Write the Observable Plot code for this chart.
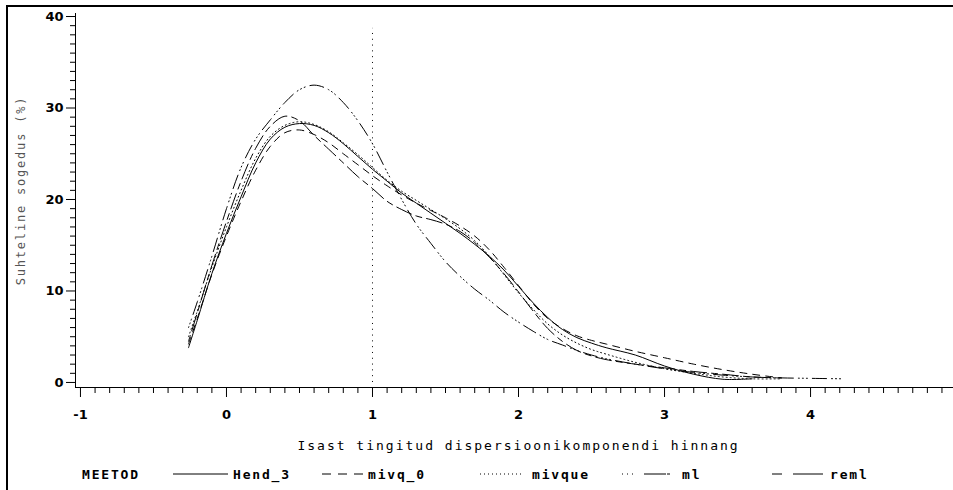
<!DOCTYPE html>
<html>
<head>
<meta charset="utf-8">
<script src="https://cdn.jsdelivr.net/npm/d3@7"></script>
<script src="https://cdn.jsdelivr.net/npm/@observablehq/plot@0.6"></script>
<style>
  body { margin: 0; background: #fff; overflow: hidden; }
  #wrap { position: relative; width: 953px; height: 490px; overflow: hidden; background: #fff; }
  #border { position: absolute; left: 6px; top: 5px; width: 1000px; height: 1000px;
            border-left: 2px solid #000; border-top: 2px solid #000; pointer-events: none; }
  #legend { position: absolute; left: 0; top: 460px; }
  #chart svg { display: block; }
</style>
</head>
<body>
<div id="wrap">
  <div id="chart"></div>
  <div id="legend"></div>
  <div id="border"></div>
</div>
<script>
// ---------------- data ----------------
const seriesNames = ["Hend_3", "mivq_0", "mivque", "ml", "reml"];
const legendTitle = "MEETOD";
const xTitle = "Isast tingitud dispersioonikomponendi hinnang";
const yTitle = "Suhteline sogedus (%)";

const xs = [-0.26, -0.2, -0.1, 0, 0.1, 0.2, 0.3, 0.4, 0.5, 0.6, 0.7, 0.8, 0.9, 1.0,
            1.1, 1.2, 1.3, 1.4, 1.5, 1.6, 1.7, 1.8, 1.9, 2.0, 2.1, 2.2, 2.3, 2.4, 2.5, 2.6,
            2.8, 3.0, 3.2, 3.4, 3.6, 3.8, 4.0, 4.22];

const hend3 = [3.8, 6.8, 11.9, 16.3, 20.3, 24.0, 26.6, 27.9, 28.3, 28.1, 27.3, 26.1, 24.7, 23.3,
               22.0, 20.7, 19.6, 18.5, 17.4, 16.3, 15.1, 13.8, 12.3, 10.5, 8.7, 7.1, 5.8, 4.9, 4.3, 3.8,
               3.0, 1.8, 0.9, 0.35, 0.4, null, null, null];
const mivq0 = [4.2, 7.0, 11.8, 16.0, 19.8, 23.2, 25.8, 27.3, 27.6, 27.1, 26.2, 25.0, 23.8, 22.6,
               21.5, 20.5, 19.6, 18.8, 18.0, 17.1, 16.0, 14.5, 12.6, 10.6, 8.6, 7.0, 5.9, 5.1, 4.6, 4.2,
               3.4, 2.7, 2.0, 1.4, 0.9, 0.5, null, null];
const mivque = [5.0, 7.8, 12.6, 17.0, 21.0, 24.5, 26.9, 28.1, 28.5, 28.2, 27.4, 26.2, 24.9, 23.5,
               22.1, 20.9, 19.9, 18.9, 17.9, 16.8, 15.5, 13.8, 11.8, 9.8, 8.0, 6.4, 5.2, 4.3, 3.6, 3.1,
               2.2, 1.5, 1.0, 0.6, 0.4, 0.4, null, null];
const ml = [6.0, 8.8, 13.8, 19.0, 23.5, 26.6, 28.7, 30.6, 32.0, 32.5, 32.0, 30.6, 28.6, 26.1,
               23.0, 20.0, 17.3, 15.2, 13.2, 11.6, 10.2, 9.0, 7.7, 6.6, 5.6, 4.7, 4.1, 3.5, 3.0, 2.6,
               2.0, 1.5, 1.1, 0.8, 0.6, 0.5, 0.45, 0.4];
const reml = [4.5, 7.6, 12.8, 17.6, 22.0, 25.6, 28.0, 29.1, 28.6, 27.0, 25.5, 24.0, 22.5, 21.2,
               19.8, 18.9, 18.2, 17.8, 17.3, 16.5, 15.3, 13.7, 11.9, 9.9, 7.8, 5.9, 4.5, 3.5, 2.9, 2.5,
               2.0, 1.6, 1.2, 0.9, 0.6, 0.5, null, null];

const xMajorTicks = [-1, 0, 1, 2, 3, 4];
const yMajorTicks = [0, 10, 20, 30, 40];
const refLine = [{x: 1, y1: 0, y2: 38.7}];

// ---------------- styles ----------------
const dashes = {
  "Hend_3": null,
  "mivq_0": "7,6",
  "mivque": "1,3",
  "ml": "1,3,1,3,1,5,14,5",
  "reml": "6,5,16,5"
};
const values = {"Hend_3": hend3, "mivq_0": mivq0, "mivque": mivque, "ml": ml, "reml": reml};

const rows = name => xs.map((x, i) => ({x, y: values[name][i], s: name})).filter(d => d.y != null);

const xMinorTicks = d3.range(-10, 50).map(i => i / 10).filter(v => !xMajorTicks.includes(v));
const yMinorTicks = d3.range(0, 41).filter(v => !yMajorTicks.includes(v));

const W = 953, H = 458;
const xDomain = [-1.034, 4.979];
const yDomain = [-0.55, 40.33];

const tickFont = {fontFamily: "DejaVu Sans", fontWeight: "bold", fontSize: 13, fill: "#000"};

const chart = Plot.plot({
  width: W, height: H,
  marginLeft: 75, marginRight: 0, marginTop: 13, marginBottom: 71,
  style: {background: "transparent", color: "#000", overflow: "visible"},
  x: {domain: xDomain},
  y: {domain: yDomain},
  marks: [
    Plot.axisY({ticks: yMajorTicks, tickSize: 9, tickPadding: 3, label: null,
      tickFormat: d => String(d), ...tickFont}),
    Plot.axisY({ticks: yMinorTicks, tickSize: 5, tickFormat: () => "", label: null}),
    Plot.axisX({ticks: xMajorTicks, tickSize: 10, tickPadding: 12, label: null,
      tickFormat: d => String(d), ...tickFont}),
    Plot.axisX({ticks: xMinorTicks, tickSize: 6, tickFormat: () => "", label: null}),
    Plot.ruleX([xDomain[0]], {stroke: "#000"}),
    Plot.ruleY([yDomain[0]], {stroke: "#000"}),
    Plot.ruleX(refLine, {x: "x", y1: "y1", y2: "y2", stroke: "#000", strokeDasharray: "1,4.8"}),
    ...seriesNames.map(name => Plot.line(rows(name), {
      x: "x", y: "y", stroke: "#000", strokeWidth: 1,
      strokeDasharray: dashes[name], curve: "catmull-rom"
    })),
    Plot.text([xTitle], {frameAnchor: "bottom", dy: 62, dx: 4, text: d => d,
      fontFamily: "DejaVu Sans Mono", fontSize: 13, fill: "#000"}),
    Plot.text([yTitle], {frameAnchor: "left", dx: -54, dy: -10, rotate: -90, text: d => d,
      textAnchor: "middle", fontFamily: "DejaVu Sans Mono", fontSize: 12, fill: "#555"})
  ]
});
chart.querySelectorAll("text").forEach(t => {
  if (t.textContent === xTitle) t.setAttribute("letter-spacing", "2");
  if (t.textContent === yTitle) t.setAttribute("letter-spacing", "1.8");
});
document.getElementById("chart").appendChild(chart);

// ---------------- legend ----------------
const legendLayout = {
  title: 82,
  items: {
    "Hend_3": {x0: 173, x1: 228, tx: 233},
    "mivq_0": {x0: 322, x1: 363, tx: 368},
    "mivque": {x0: 480, x1: 522, tx: 532},
    "ml":     {x0: 622, x1: 670, tx: 682},
    "reml":   {x0: 772, x1: 823, tx: 830}
  }
};
const legendDash = {
  "Hend_3": null,
  "mivq_0": "9,7",
  "mivque": "1,3",
  "ml": "1,4,1,4,1,11,22",
  "reml": "10,11,40"
};
const ns = "http://www.w3.org/2000/svg";
const lg = document.createElementNS(ns, "svg");
lg.setAttribute("width", 953);
lg.setAttribute("height", 30);
const ly = 14;
function addText(x, str) {
  const t = document.createElementNS(ns, "text");
  t.setAttribute("x", x);
  t.setAttribute("y", ly);
  t.setAttribute("dy", "0.35em");
  t.setAttribute("font-family", "DejaVu Sans Mono");
  t.setAttribute("font-weight", "bold");
  t.setAttribute("font-size", 13);
  t.setAttribute("letter-spacing", "1.8");
  t.textContent = str;
  lg.appendChild(t);
}
addText(legendLayout.title, legendTitle);
seriesNames.forEach(name => {
  const L = legendLayout.items[name];
  const l = document.createElementNS(ns, "line");
  l.setAttribute("x1", L.x0); l.setAttribute("x2", L.x1);
  l.setAttribute("y1", ly); l.setAttribute("y2", ly);
  l.setAttribute("stroke", "#000");
  if (legendDash[name]) l.setAttribute("stroke-dasharray", legendDash[name]);
  lg.appendChild(l);
  addText(L.tx, name);
});
document.getElementById("legend").appendChild(lg);
</script>
</body>
</html>
